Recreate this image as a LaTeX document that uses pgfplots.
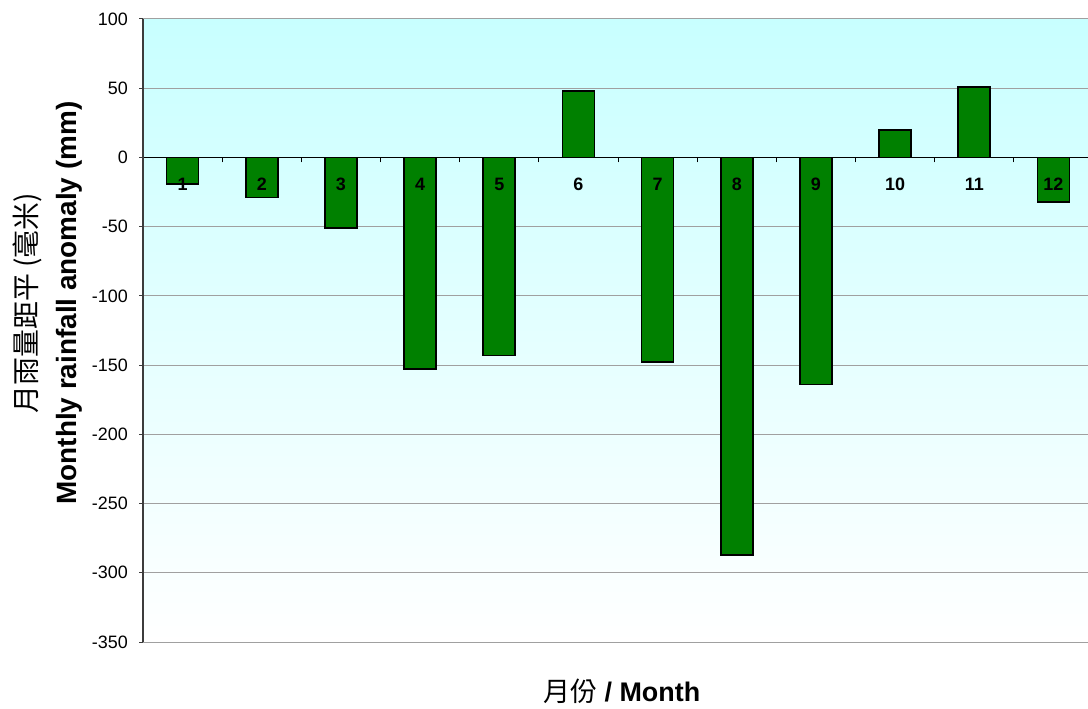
\documentclass[border=0pt]{standalone}
\usepackage{pgfplots}
\pgfplotsset{compat=1.18}
\usepackage{fontspec}
\setmainfont{Liberation Sans}
\newfontfamily\cjk{Noto Sans CJK TC}
\definecolor{bargreen}{RGB}{0,128,0}
\definecolor{bgcyan}{RGB}{200,255,255}
\definecolor{gridgray}{RGB}{160,160,160}
\begin{document}
\begin{tikzpicture}
\useasboundingbox (0,0) rectangle (1088bp,709bp);
\begin{axis}[
  at={(143bp,67bp)}, anchor=south west,
  scale only axis, width=950bp, height=623bp,
  xmin=0.5, xmax=12.5, ymin=-350, ymax=100,
  axis y line*=left, axis x line*=middle,
  y axis line style={draw={rgb,255:red,60;green,60;blue,60}, line width=1.2bp},
  x axis line style={draw=black, line width=1bp},
  axis background/.style={top color=bgcyan, bottom color=white, draw=none},
  ymajorgrids, grid style={gridgray, line width=1bp},
  ytick={-350,-300,...,100},
  yticklabels={-350,-300,-250,-200,-150,-100,-50,0,50,100},
  xtick={1,...,12},
  xticklabels={},
  minor xtick={1.5,2.5,...,11.5},
  tick align=inside,
  major tick length=4bp, minor tick length=5bp,
  major x tick style={draw=none},
  minor x tick style={draw=black, line width=1bp},
  ytick style={xshift=-4bp, draw={rgb,255:red,60;green,60;blue,60}, line width=1bp},
  yticklabel style={anchor=east, inner sep=0pt, xshift=-15bp, font=\fontsize{18}{18}\selectfont},
  ylabel={{\cjk 月雨量距平 (毫米)}\\{\bfseries Monthly rainfall anomaly (mm)}},
  ylabel style={at={(axis description cs:-0.1005,0.544)}, anchor=center, align=center, font=\fontsize{28}{41}\selectfont},
  xlabel={{\cjk 月份} {\bfseries / Month}},
  xlabel style={at={(axis description cs:0.504,-0.0787)}, anchor=center, font=\fontsize{27}{30}\selectfont},
  ybar, bar width=32bp, bar shift=0pt,
  clip=false,
]
\addplot[fill=bargreen, draw=black, line width=1.7bp, bar shift=0pt] coordinates {
  (1,-19) (2,-29) (3,-51) (4,-153) (5,-143) (6,48)
  (7,-148) (8,-287) (9,-164) (10,20) (11,51) (12,-32)
};
\addplot[draw=none, fill=none, bar shift=0pt,
  nodes near coords, point meta=explicit symbolic,
  nodes near coords style={anchor=center, inner sep=0pt, yshift=-27bp, text=black,
    font=\bfseries\fontsize{18}{18}\selectfont}] coordinates {
  (1,0)[1] (2,0)[2] (3,0)[3] (4,0)[4] (5,0)[5] (6,0)[6]
  (7,0)[7] (8,0)[8] (9,0)[9] (10,0)[10] (11,0)[11] (12,0)[12]
};
\end{axis}
\end{tikzpicture}
\end{document}
